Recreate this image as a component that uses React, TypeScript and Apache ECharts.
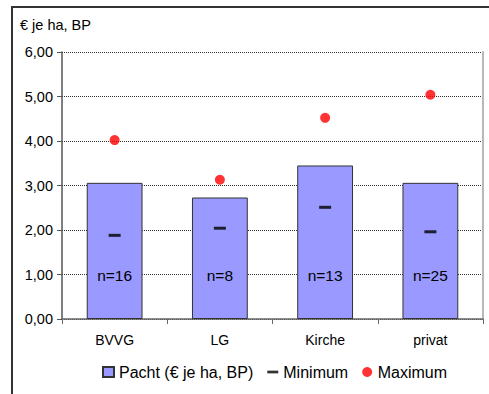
import React, { useEffect, useRef } from "react";
import * as echarts from "echarts";

// Pachtpreise je Eigentümergruppe
const categories = ["BVVG", "LG", "Kirche", "privat"];
const pachtValues = [3.06, 2.73, 3.45, 3.06];
const minimumValues = [1.88, 2.04, 2.51, 1.96];
const maximumValues = [4.02, 3.13, 4.52, 5.04];
const sampleSizes = [16, 8, 13, 25];
const yTicks = [0, 1, 2, 3, 4, 5, 6];

const FONT = "Liberation Sans";

export default function App() {
  const ref = useRef<HTMLDivElement>(null);

  useEffect(() => {
    document.body.style.margin = "0";
    if (!ref.current) return;
    const chart = echarts.init(ref.current, undefined, { renderer: "svg" });

    const fmt = (v: number) => v.toFixed(2).replace(".", ",");

    chart.setOption({
      animation: false,
      backgroundColor: "#ffffff",
      textStyle: { fontFamily: FONT, color: "#000" },
      graphic: [
        {
          type: "rect",
          shape: { x: 12, y: 7, width: 600, height: 600 },
          style: { fill: "none", stroke: "#333", lineWidth: 2 },
          silent: true,
        },
        {
          type: "text",
          left: 20,
          top: 17,
          style: { text: "€ je ha, BP", font: `14.5px "${FONT}"`, fill: "#000" },
        },
      ],
      grid: { left: 62, top: 52, right: 6, bottom: 75, containLabel: false },
      legend: {
        left: 97,
        top: 359,
        itemWidth: 11,
        itemHeight: 10,
        itemGap: 14,
        textStyle: { fontFamily: FONT, fontSize: 16, color: "#000" },
        data: [
          { name: "Pacht (€ je ha, BP)", icon: "rect" },
          { name: "Minimum", icon: "path://M0 0H12V3H0Z" },
          { name: "Maximum", icon: "circle" },
        ],
      },
      xAxis: {
        type: "category",
        data: categories,
        axisLine: { lineStyle: { color: "#666", width: 1.5 } },
        axisTick: { show: true, length: 5, lineStyle: { color: "#666" } },
        axisLabel: { fontFamily: FONT, fontSize: 14, color: "#000", margin: 14 },
      },
      yAxis: [
        {
          type: "value",
          min: yTicks[0],
          max: yTicks[yTicks.length - 1],
          interval: 1,
          axisLine: { show: true, lineStyle: { color: "#555", width: 1.5 } },
          axisTick: { show: true, length: 5, lineStyle: { color: "#555" } },
          axisLabel: {
            fontFamily: FONT,
            fontSize: 14.5,
            color: "#000",
            margin: 9,
            formatter: (v: number) => fmt(v),
          },
          splitLine: {
            show: true,
            lineStyle: { color: "#333", width: 1, type: [1, 1] },
          },
        },
        {
          type: "value",
          position: "right",
          min: yTicks[0],
          max: yTicks[yTicks.length - 1],
          interval: 1,
          axisLine: { show: true, lineStyle: { color: "#b8b8b8", width: 2 } },
          axisTick: { show: false },
          axisLabel: { show: false },
          splitLine: { show: false },
        },
      ],
      series: [
        {
          name: "Pacht (€ je ha, BP)",
          type: "bar",
          barWidth: "53%",
          data: pachtValues,
          itemStyle: { color: "#9999FF", borderColor: "#333", borderWidth: 1 },
          label: {
            show: true,
            position: "insideBottom",
            distance: 36,
            fontFamily: FONT,
            fontSize: 15.5,
            color: "#000",
            formatter: (p: any) => `n=${sampleSizes[p.dataIndex]}`,
          },
          z: 2,
        },
        {
          name: "Minimum",
          type: "scatter",
          data: minimumValues,
          symbol: "rect",
          symbolSize: [12, 3],
          itemStyle: { color: "#000" },
          z: 3,
        },
        {
          name: "Maximum",
          type: "scatter",
          data: maximumValues,
          symbol: "circle",
          symbolSize: 10,
          itemStyle: { color: "#FF0000" },
          z: 3,
        },
      ],
    });

    return () => chart.dispose();
  }, []);

  return <div ref={ref} style={{ width: 489, height: 394 }} />;
}
